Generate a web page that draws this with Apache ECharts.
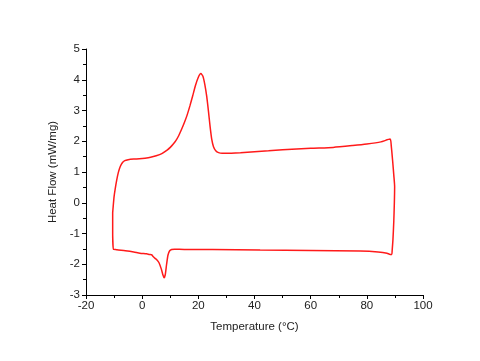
<!DOCTYPE html>
<html>
<head>
<meta charset="utf-8">
<script src="https://cdn.jsdelivr.net/npm/echarts@6/dist/echarts.min.js"></script>
<style>
  html, body { margin: 0; padding: 0; background: #fff; }
  #chart { width: 480px; height: 361px; }
</style>
</head>
<body>
<div id="chart"></div>
<script>
// DSC loop: temperature (°C) and heat flow (mW/mg), in drawing order
const temperature = [
  -10.5, -10.3, -10.0, -9.6, -9.1, -8.5, -7.8, -7.0, -6.2, -5.0, -3.0, -1.0, 1.0, 3.0, 5.0, 7.0, 9.0,
  10.0, 11.0, 12.0, 13.0, 14.0, 15.0, 16.0, 17.0, 18.0, 19.0, 20.0, 20.9, 21.6, 22.3, 23.0, 23.6, 24.2, 24.8, 25.4,
  26.2, 27.2, 28.5, 30.0, 35.0, 40.0, 45.0, 50.0, 60.0, 68.0, 75.0, 80.0, 85.0, 88.3,
  88.7, 89.2, 89.6, 89.9, 89.8, 89.6, 89.3, 89.0, 88.9,
  88.3, 87.2, 84.0, 77.6, 60.0, 42.0, 25.0, 15.0, 11.5, 10.5, 9.8, 9.2, 8.7, 8.2, 7.8, 7.4, 6.8, 6.0,
  5.2, 4.6, 3.8, 3.4, 2.6, 1.5, -0.8, -3.0, -6.0, -9.0, -10.3, -10.5, -10.5, -10.5
]
const heatFlow = [
  -0.32, -0.1, 0.2, 0.45, 0.72, 0.98, 1.18, 1.31, 1.37, 1.40, 1.42, 1.43, 1.45, 1.48, 1.53, 1.60, 1.72,
  1.80, 1.90, 2.02, 2.18, 2.38, 2.60, 2.85, 3.15, 3.48, 3.82, 4.08, 4.20, 4.12, 3.85, 3.45, 2.98, 2.47, 2.05, 1.82,
  1.69, 1.63, 1.61, 1.61, 1.63, 1.66, 1.69, 1.72, 1.77, 1.80, 1.86, 1.91, 1.98, 2.07,
  1.85, 1.35, 0.90, 0.52, 0.0, -0.6, -1.2, -1.58, -1.68,
  -1.68, -1.64, -1.60, -1.57, -1.55, -1.54, -1.52, -1.52, -1.51, -1.52, -1.56, -1.70, -2.00, -2.35, -2.44,
  -2.35, -2.15, -1.95, -1.85, -1.81, -1.74, -1.69, -1.68, -1.66, -1.64, -1.60, -1.56, -1.53, -1.51, -1.51, -1.0, -0.32
]

const xTicks = [-20, 100, 20]
const yTicks = [-3, 5, 1]

const points = temperature.map((t, i) => [t, heatFlow[i]])

const chart = echarts.init(document.getElementById('chart'))

const axisText = {color: '#222', fontSize: 11.5, fontFamily: 'Liberation Sans, Arial, sans-serif'}

chart.setOption({
  animation: false,
  backgroundColor: '#fff',
  grid: {left: 86, right: 57, top: 49, bottom: 66},
  xAxis: {
    type: 'value',
    min: xTicks[0],
    max: xTicks[1],
    interval: xTicks[2],
    name: 'Temperature (°C)',
    nameLocation: 'middle',
    nameGap: 26,
    nameTextStyle: axisText,
    axisLine: {onZero: false, lineStyle: {color: '#000', width: 1}},
    axisTick: {inside: false, length: 4, lineStyle: {color: '#000'}},
    minorTick: {show: true, splitNumber: 2, length: 3, lineStyle: {color: '#000'}},
    axisLabel: Object.assign({margin: 5}, axisText),
    splitLine: {show: false}
  },
  yAxis: {
    type: 'value',
    min: yTicks[0],
    max: yTicks[1],
    interval: yTicks[2],
    name: 'Heat Flow (mW/mg)',
    nameLocation: 'middle',
    nameGap: 22,
    nameTextStyle: axisText,
    axisLine: {show: true, onZero: false, lineStyle: {color: '#000', width: 1}},
    axisTick: {show: true, inside: false, length: 4, lineStyle: {color: '#000'}},
    minorTick: {show: true, splitNumber: 2, length: 3, lineStyle: {color: '#000'}},
    axisLabel: Object.assign({margin: 6}, axisText),
    splitLine: {show: false}
  },
  series: [{
    type: 'line',
    data: points,
    showSymbol: false,
    smooth: 0.2,
    lineStyle: {color: '#ff1a1a', width: 1.5}
  }]
})
</script>
</body>
</html>
